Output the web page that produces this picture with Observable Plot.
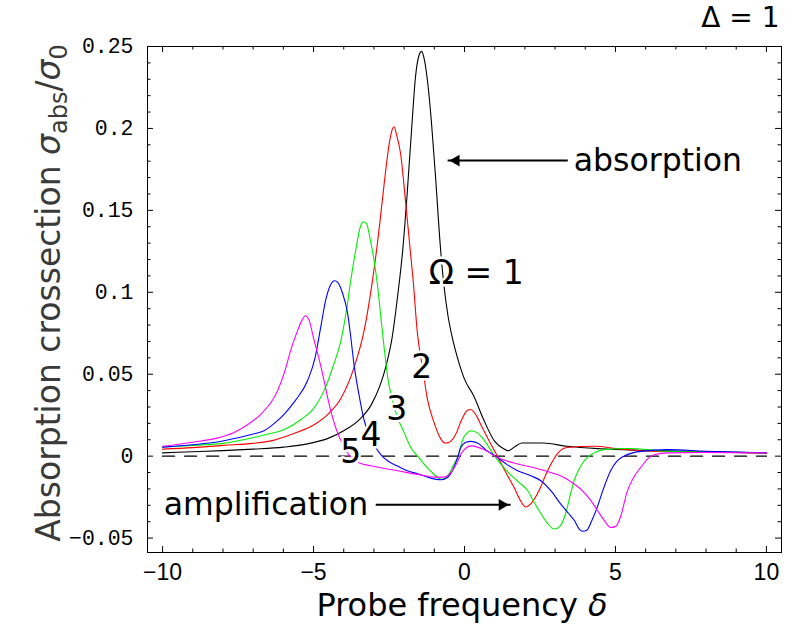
<!DOCTYPE html>
<html><head><meta charset="utf-8">
<script src="https://cdn.jsdelivr.net/npm/d3@7"></script>
<script src="https://cdn.jsdelivr.net/npm/@observablehq/plot@0.6"></script>
<style>body{margin:0;background:#fff} #chart{width:792px;height:630px}</style>
</head><body><div id="chart"></div>
<script>
// ---- data ----
const omega1 = [[-10,0.002],[-9,0.0027],[-8,0.0034],[-7,0.0043],[-6,0.0055],[-5.2,0.0075],[-4.5,0.011],[-4,0.0155],[-3.5,0.022],[-3.1,0.031],[-2.8,0.043],[-2.6,0.055],[-2.4,0.072],[-2.2,0.1],[-2.05,0.125],[-1.9,0.16],[-1.75,0.2],[-1.62,0.232],[-1.5,0.245],[-1.42,0.247],[-1.33,0.242],[-1.22,0.228],[-1.1,0.205],[-0.95,0.168],[-0.8,0.128],[-0.68,0.104],[-0.55,0.086],[-0.4,0.072],[-0.2,0.058],[0,0.047],[0.3,0.037],[0.64,0.022],[1.0,0.009],[1.3,0.0045],[1.45,0.0033],[1.65,0.0055],[1.9,0.008],[2.6,0.008],[3.4,0.006],[4.5,0.0045],[6,0.0035],[8,0.0026],[10,0.002]];
const omega2 = [[-10,0.0043],[-9,0.0052],[-8,0.0066],[-7,0.0078],[-6.3,0.0098],[-5.7,0.0135],[-5,0.019],[-4.5,0.026],[-4.1,0.035],[-3.66,0.054],[-3.32,0.077],[-3.05,0.107],[-2.85,0.135],[-2.65,0.168],[-2.5,0.19],[-2.4,0.199],[-2.33,0.201],[-2.25,0.196],[-2.12,0.185],[-1.95,0.155],[-1.82,0.13],[-1.7,0.107],[-1.56,0.075],[-1.39,0.054],[-1.23,0.035],[-1.0,0.02],[-0.8,0.011],[-0.65,0.008],[-0.5,0.0085],[-0.3,0.013],[-0.1,0.022],[0.1,0.028],[0.2,0.0285],[0.35,0.026],[0.6,0.017],[0.87,0.0074],[1.09,0],[1.4,-0.011],[1.64,-0.019],[1.85,-0.027],[2.03,-0.031],[2.2,-0.029],[2.47,-0.021],[2.7,-0.011],[2.86,-0.005],[3.1,0.002],[3.4,0.0053],[4.3,0.006],[5.1,0.0045],[6.2,0.003],[8,0.0025],[10,0.002]];
const omega3 = [[-10,0.0055],[-9,0.0066],[-8,0.0078],[-7.2,0.0105],[-6.5,0.0135],[-6,0.016],[-5.4,0.0225],[-5,0.029],[-4.65,0.04],[-4.35,0.055],[-4.1,0.07],[-3.9,0.09],[-3.77,0.107],[-3.6,0.126],[-3.45,0.14],[-3.35,0.143],[-3.25,0.142],[-3.12,0.132],[-3.0,0.12],[-2.88,0.104],[-2.76,0.083],[-2.66,0.066],[-2.55,0.049],[-2.44,0.038],[-2.22,0.0236],[-2.0,0.0145],[-1.78,0.0053],[-1.55,0],[-1.34,-0.0048],[-1.1,-0.0095],[-0.89,-0.013],[-0.75,-0.0142],[-0.56,-0.012],[-0.35,-0.005],[-0.23,-0.0008],[-0.05,0.0105],[0.1,0.0145],[0.22,0.0155],[0.4,0.0145],[0.6,0.011],[0.98,0.0005],[1.4,-0.009],[1.8,-0.016],[2.09,-0.021],[2.3,-0.028],[2.53,-0.035],[2.75,-0.041],[2.97,-0.0445],[3.15,-0.043],[3.35,-0.035],[3.5,-0.024],[3.63,-0.015],[3.85,-0.006],[4.07,-0.0008],[4.3,0.002],[4.62,0.004],[5.4,0.0047],[6.7,0.003],[8,0.0025],[10,0.002]];
const omega4 = [[-10,0.0055],[-9,0.007],[-8.2,0.0086],[-7.5,0.0112],[-7,0.0135],[-6.64,0.0155],[-6.3,0.02],[-5.97,0.0257],[-5.6,0.034],[-5.2,0.046],[-4.95,0.06],[-4.75,0.08],[-4.6,0.095],[-4.45,0.104],[-4.3,0.107],[-4.2,0.106],[-4.05,0.1],[-3.87,0.087],[-3.75,0.07],[-3.66,0.056],[-3.5,0.038],[-3.32,0.0216],[-3.1,0.011],[-2.94,0.0053],[-2.75,0.0005],[-2.55,-0.0028],[-2.2,-0.0062],[-1.89,-0.0089],[-1.5,-0.011],[-1.12,-0.0134],[-0.78,-0.0144],[-0.6,-0.0135],[-0.45,-0.0105],[-0.25,-0.002],[-0.12,0.0053],[0.05,0.0085],[0.21,0.009],[0.43,0.008],[0.7,0.004],[1.09,-0.0008],[1.4,-0.005],[1.76,-0.0089],[2.2,-0.012],[2.53,-0.015],[2.9,-0.022],[3.19,-0.0293],[3.45,-0.035],[3.63,-0.039],[3.8,-0.0445],[3.92,-0.0458],[4.05,-0.0452],[4.2,-0.04],[4.4,-0.031],[4.6,-0.02],[4.84,-0.0089],[5.05,-0.003],[5.28,0],[5.84,0.0029],[6.72,0.004],[8,0.003],[10,0.002]];
const omega5 = [[-10,0.006],[-9,0.0085],[-8.2,0.011],[-7.63,0.0145],[-7.2,0.019],[-6.74,0.0257],[-6.4,0.033],[-6.19,0.04],[-5.95,0.052],[-5.75,0.065],[-5.53,0.0766],[-5.38,0.083],[-5.27,0.0857],[-5.15,0.083],[-4.98,0.0705],[-4.8,0.058],[-4.65,0.046],[-4.5,0.033],[-4.37,0.0235],[-4.2,0.014],[-4.0,0.006],[-3.8,0.0],[-3.5,-0.004],[-3.1,-0.0059],[-2.22,-0.0089],[-1.45,-0.0115],[-1.0,-0.0128],[-0.7,-0.0128],[-0.45,-0.01],[-0.25,-0.004],[-0.12,0.0013],[0.05,0.005],[0.21,0.0063],[0.43,0.0055],[0.64,0.004],[1.09,-0.0008],[1.76,-0.0048],[2.4,-0.0075],[2.86,-0.01],[3.3,-0.013],[3.63,-0.017],[3.9,-0.021],[4.18,-0.027],[4.4,-0.033],[4.62,-0.039],[4.84,-0.0435],[5.0,-0.043],[5.15,-0.038],[5.4,-0.021],[5.6,-0.013],[5.84,-0.0069],[6.05,-0.002],[6.28,0.0008],[6.72,0.002],[8,0.0022],[10,0.002]];

const seriesNames = ["Ω = 1", "2", "3", "4", "5"];
const seriesColors = ["#000000", "#ff0000", "#00ee00", "#0000ff", "#ff00ff"];
const seriesData = [omega1, omega2, omega3, omega4, omega5];

const xTicks = [-10, -5, 0, 5, 10];
const xTickLabels = ["−10", "−5", "0", "5", "10"];
const yTicks = [-0.05, 0, 0.05, 0.1, 0.15, 0.2, 0.25];
const yTickLabels = ["−0.05", "0", "0.05", "0.1", "0.15", "0.2", "0.25"];
const zeroLineX = [-10, 10];

// curve labels (data coordinates)
const curveLabels = [
  {text: "Ω = 1", x: 0.39, y: 0.1114},
  {text: "2", x: -1.42, y: 0.054},
  {text: "3", x: -2.24, y: 0.0284},
  {text: "4", x: -3.1, y: 0.0125},
  {text: "5", x: -3.77, y: 0.002}
];
const arrows = [
  {label: "absorption", x1: 3.42, x2: -0.56, y: 0.1804, tx: 3.62},
  {label: "amplification", x1: -2.94, x2: 1.53, y: -0.0297, tx: -9.96}
];

// ---- build ----
const rows = seriesData.flatMap((pts, i) => pts.map(([x, y]) => ({series: seriesNames[i], x, y})));
const minorX = d3.range(-10, 11).filter(v => v % 5 !== 0);
const minorY = d3.range(-5, 26).filter(v => v % 5 !== 0).map(v => v / 100);
const yFmt = new Map(yTicks.map((v, i) => [v, yTickLabels[i]]));
const xFmt = new Map(xTicks.map((v, i) => [v, xTickLabels[i]]));

const W = 792, H = 630, mL = 147, mR = 11, mT = 46, mB = 78;
const FW = W - mL - mR, FH = H - mT - mB;
const major = 6, minor = 3.5;

const plot = Plot.plot({
  width: W, height: H,
  marginLeft: mL, marginRight: mR, marginTop: mT, marginBottom: mB,
  x: {domain: [-10.5, 10.5]},
  y: {domain: [-0.0588, 0.25]},
  color: {domain: seriesNames, range: seriesColors},
  style: {fontFamily: "DejaVu Sans", background: "white", color: "black"},
  marks: [
    Plot.line(zeroLineX, {x: d => d, y: () => 0, stroke: "black", strokeWidth: 1.3, strokeDasharray: "12,10"}),
    Plot.line(rows, {x: "x", y: "y", z: "series", stroke: "series", strokeWidth: 1.1, curve: "monotone-x"}),
    Plot.frame({stroke: "black", strokeWidth: 1}),
    // inward frame ticks
    Plot.tickX(xTicks, {x: d => d, insetTop: FH - major, strokeWidth: 1}),
    Plot.tickX(xTicks, {x: d => d, insetBottom: FH - major, strokeWidth: 1}),
    Plot.tickX(minorX, {x: d => d, insetTop: FH - minor, strokeWidth: 1}),
    Plot.tickX(minorX, {x: d => d, insetBottom: FH - minor, strokeWidth: 1}),
    Plot.tickY(yTicks, {y: d => d, insetRight: FW - major, strokeWidth: 1}),
    Plot.tickY(yTicks, {y: d => d, insetLeft: FW - major, strokeWidth: 1}),
    Plot.tickY(minorY, {y: d => d, insetRight: FW - minor, strokeWidth: 1}),
    Plot.tickY(minorY, {y: d => d, insetLeft: FW - minor, strokeWidth: 1}),
    Plot.axisX({ticks: xTicks, tickSize: 0, tickPadding: 11, label: null, tickFormat: d => xFmt.get(d), fontSize: 23, fontFamily: "Liberation Sans"}),
    Plot.axisY({ticks: yTicks, tickSize: 0, tickPadding: 14, label: null, tickFormat: d => yFmt.get(d), fontSize: 21.5, fontFamily: "Liberation Mono"}),
    // arrows
    Plot.link(arrows, {x1: "x1", x2: "x2", y1: "y", y2: "y", stroke: "black", strokeWidth: 2}),
    Plot.dot(arrows.filter(a => a.x2 < a.x1), {x: "x2", y: "y", symbol: "triangle2", r: 5.6, rotate: -90, fill: "black", stroke: null, dx: 8.6}),
    Plot.dot(arrows.filter(a => a.x2 > a.x1), {x: "x2", y: "y", symbol: "triangle2", r: 5.6, rotate: 90, fill: "black", stroke: null, dx: -8.6}),
    Plot.text(arrows, {x: "tx", y: "y", text: "label", textAnchor: "start", lineAnchor: "middle", fontSize: 31.5, fill: "black", stroke: "white", strokeWidth: 4, paintOrder: "stroke"}),
    // curve labels with white halo
    Plot.text(curveLabels, {x: "x", y: "y", text: "text", textAnchor: "middle", lineAnchor: "middle", fontSize: 33, fill: "black", stroke: "white", strokeWidth: 5, paintOrder: "stroke"}),
    Plot.text(["Δ = 1"], {frameAnchor: "top-right", textAnchor: "end", lineAnchor: "middle", dy: -28, dx: -2, fontSize: 28, fill: "black"})
  ]
});

const svg = d3.select(plot);
// y axis label with subscripts
const yl = svg.append("text")
  .attr("transform", "translate(60,293) rotate(-90)")
  .attr("text-anchor", "middle")
  .attr("font-family", "DejaVu Sans")
  .attr("font-size", 33)
  .attr("fill", "#3a3a3a");
yl.append("tspan").text("Absorption crossection ");
yl.append("tspan").attr("font-style", "italic").text("σ");
yl.append("tspan").attr("font-size", 24).attr("dy", 7).text("abs");
yl.append("tspan").attr("dy", -7).text("/");
yl.append("tspan").attr("font-style", "italic").text("σ");
yl.append("tspan").attr("font-size", 24).attr("dy", 7).text("0");
// x axis label
svg.append("text")
  .attr("x", 462).attr("y", 616)
  .attr("text-anchor", "middle")
  .attr("font-family", "DejaVu Sans")
  .attr("font-size", 32)
  .attr("fill", "black")
  .text("Probe frequency ")
  .append("tspan").attr("font-style", "italic").text("δ");

document.getElementById("chart").append(plot);
</script></body></html>
